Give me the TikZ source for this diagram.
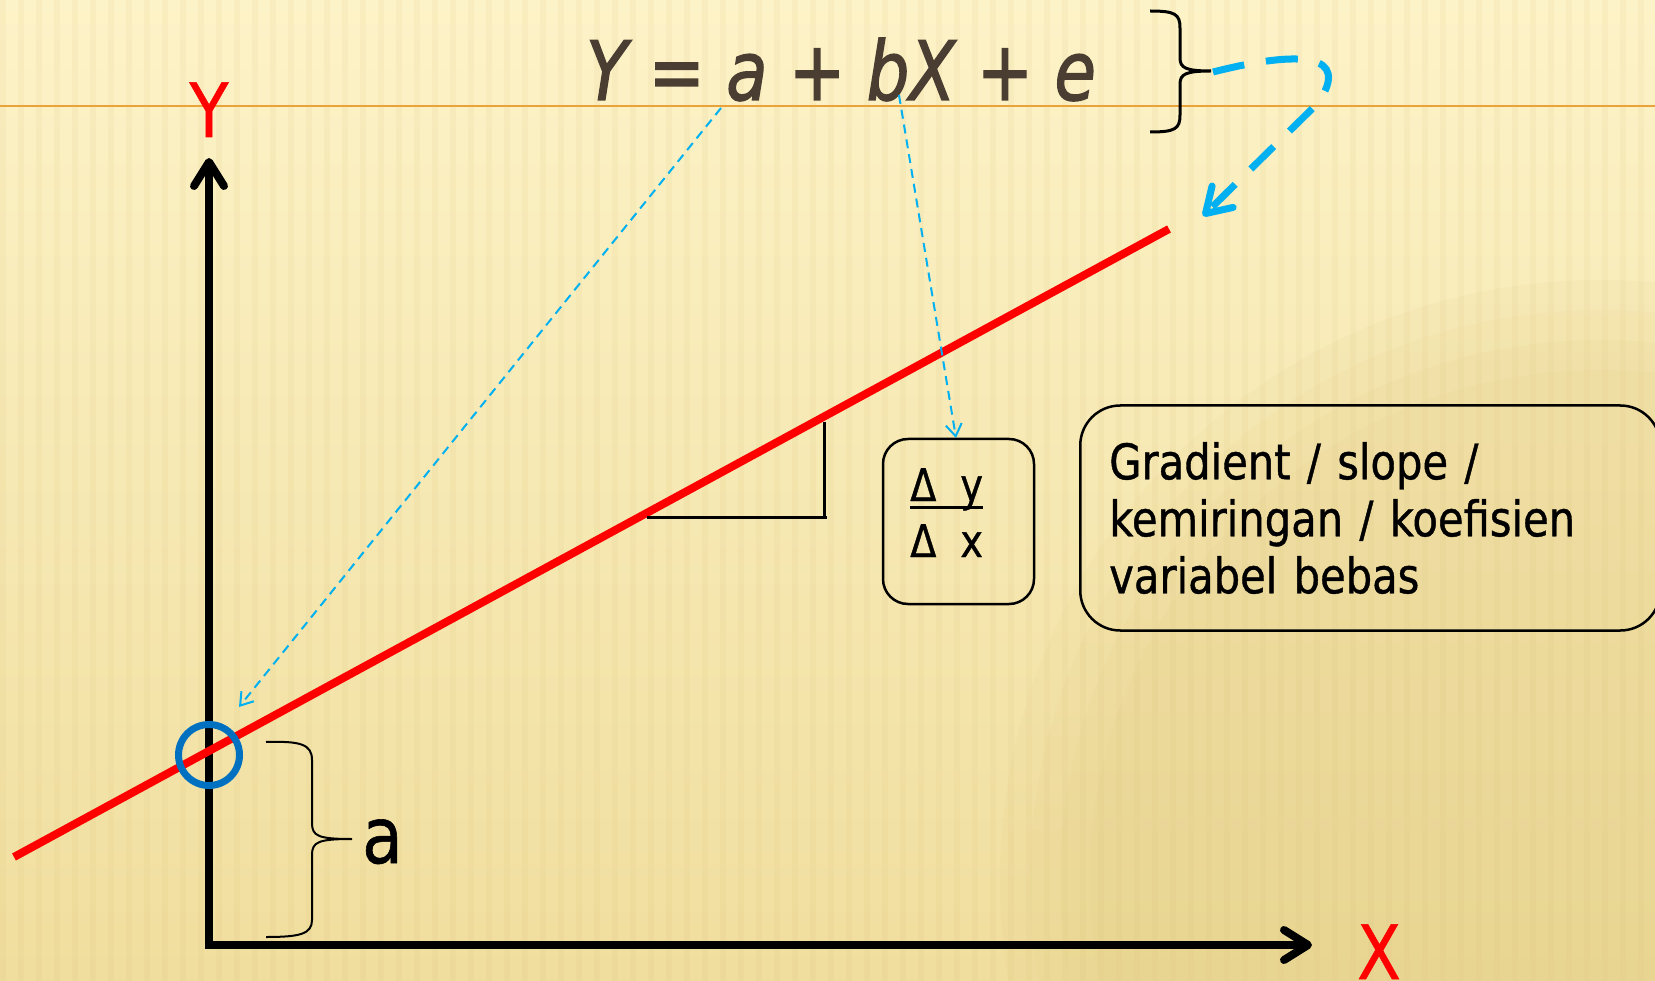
\documentclass[tikz,border=0pt]{standalone}
\usepackage{fontspec}
\setmainfont{DejaVu Sans}
\newfontfamily\tfont[FakeStretch=0.85,FakeBold=0.8]{DejaVu Sans}
\newfontfamily\eqfont[FakeStretch=0.82,FakeBold=1.6]{DejaVu Sans}
\usetikzlibrary{arrows.meta}
\definecolor{bgtop}{RGB}{253,243,200}
\definecolor{bgbot}{RGB}{240,222,158}
\definecolor{bgdark}{RGB}{222,196,120}
\definecolor{stripe}{RGB}{215,190,120}
\definecolor{eqbrown}{RGB}{74,62,50}
\definecolor{orangeline}{RGB}{234,163,58}
\definecolor{lblue}{RGB}{0,176,240}
\definecolor{cblue}{RGB}{0,112,192}
\tikzset{
  axisline/.style={line width=8pt, black},
  thinarrow/.style={lblue, line width=2pt, dash pattern=on 9pt off 6pt,
    -{Straight Barb[length=12pt,width=16pt]}},
  bigarrow/.style={lblue, line width=7pt, dash pattern=on 32pt off 22pt,
    -{Straight Barb[length=24pt,width=30pt,line cap=round,line join=round]}},
  bracepath/.style={black, line width=2pt},
  roundbox/.style={draw=black, line width=2.5pt, rounded corners=#1, inner sep=0pt},
  lbl/.style={inner sep=0pt, font=\tfont\fontsize{75}{80}\selectfont},
}
\begin{document}
\begin{tikzpicture}[x=1pt,y=-1pt]
\useasboundingbox (0,0) rectangle (1655,981);
% background
\shade[top color=bgtop, bottom color=bgbot] (0,0) rectangle (1655,981);
\foreach \r in {600,570,540,510} {
  \fill[bgdark, opacity=0.08] (1600,880) circle (\r);
}
\foreach \i in {0,...,92} {
  \fill[stripe, opacity=0.1] (\i*18,0) rectangle ++(6,981);
}
% orange line
\draw[orangeline, line width=2.5pt] (0,106) -- (1655,106);

% axes
\coordinate (ytip) at (209,158);
\coordinate (origin) at (209,945);
\coordinate (xtip) at (1312,945);
\draw[axisline, {Straight Barb[length=24pt,width=30pt,line cap=round,line join=round]}-{Straight Barb[length=24pt,width=30pt,line cap=round,line join=round]}]
  (ytip) -- (origin) -- (xtip);
\node[lbl, text=red, anchor=base] (ylab) at (209,137) {Y};
\node[lbl, text=red, anchor=base] (xlab) at (1379,979) {X};

% regression line
\coordinate (r1) at (14,857);
\coordinate (r2) at (1169,229);
\draw[red, line width=8pt] (r1) -- (r2);

% slope triangle
\coordinate (t1) at (647,517);
\coordinate (t2) at (827,517);
\coordinate (t3) at (824,422);
\coordinate (t4) at (824,517);
\draw[black, line width=3pt] (t1) -- (t2);
\draw[black, line width=3pt] (t3) -- (t4);

% intercept circle
\node[circle, draw=cblue, line width=7pt, minimum size=61pt, inner sep=0pt] (icpt) at (209,755) {};

% brace a
\draw[bracepath] (266,742) .. controls (300,741) and (312,744) .. (312,760) -- (312,823)
  .. controls (312,836) and (318,839) .. (352,839)
  .. controls (318,839) and (312,842) .. (312,855) -- (312,920)
  .. controls (312,934) and (300,937) .. (266,937);
\node[inner sep=0pt, anchor=base west, font=\tfont\fontsize{78}{80}\selectfont] (alab) at (362,863) {a};

% equation
\node[inner sep=0pt, anchor=base west, text=eqbrown, font=\eqfont\itshape\fontsize{82}{90}\selectfont] (eq) at (586,100) {Y = a + bX + e};
\coordinate (eqa) at (721,108);
\coordinate (eqb) at (899,95);

% top brace
\draw[black, line width=3pt] (1150,11) .. controls (1175,11) and (1180,14) .. (1180,28) -- (1180,58)
  .. controls (1180,68) and (1186,71) .. (1211,71)
  .. controls (1186,71) and (1180,74) .. (1180,84) -- (1180,115)
  .. controls (1180,129) and (1175,132) .. (1150,132);
\coordinate (bracetip) at (1213,72);
\coordinate (bigtip) at (1203,216);
\draw[bigarrow] (bracetip) .. controls (1300,50) and (1352,53) .. (1318,103) -- (bigtip);

% delta box
\node[roundbox=25pt, minimum width=151pt, minimum height=165pt] (dbox) at (958.5,521.5) {};
\node[inner sep=0pt, anchor=base west, font=\tfont\fontsize{45}{50}\selectfont] (dy) at (910,501) {Δ\hspace{24pt}y};
\node[inner sep=0pt, anchor=base west, font=\tfont\fontsize{45}{50}\selectfont] (dx) at (910,557) {Δ\hspace{24pt}x};
\draw[black, line width=3pt] ([yshift=-6pt]dy.base west) -- ([yshift=-6pt]dy.base east);

% gradient box
\node[roundbox=40pt, anchor=west, minimum width=580pt, minimum height=225pt,
  text width=522pt, align=left, inner xsep=29pt,
  font=\tfont\fontsize{49}{57}\selectfont] (gbox) at (1079,518)
  {Gradient / slope /\\kemiringan / koefisien\\variabel bebas};

% thin dashed arrows
\coordinate (aend) at (239,707);
\coordinate (bend) at (956,438);
\draw[thinarrow] (eqa) -- (aend);
\draw[thinarrow] (eqb) -- (bend);
\end{tikzpicture}
\end{document}
